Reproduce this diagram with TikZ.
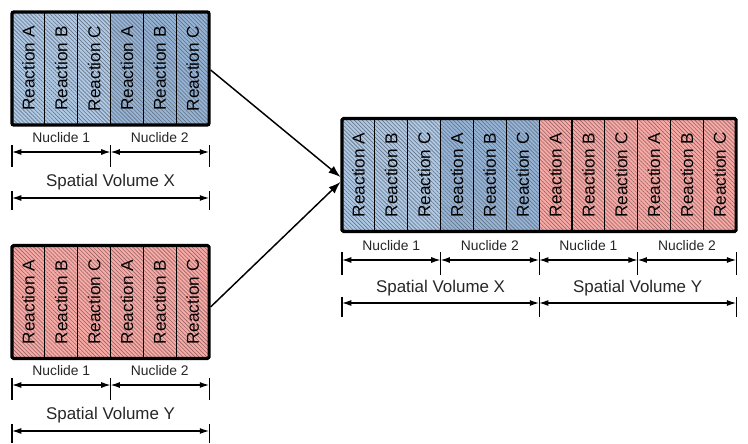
\documentclass[tikz,border=0pt]{standalone}
\usepackage{fontspec}
\setmainfont{Liberation Sans}
\usetikzlibrary{patterns.meta}
\usetikzlibrary{arrows.meta}
\usetikzlibrary{positioning}

\definecolor{volX}{RGB}{176,202,230}
\definecolor{volXdark}{RGB}{150,180,214}
\definecolor{volY}{RGB}{247,170,166}
\definecolor{hatchX}{RGB}{100,114,132}
\definecolor{hatchY}{RGB}{150,100,100}

\tikzset{
  rxn/.style={rectangle,draw=black,line width=0.9pt,minimum width=24.64pt,minimum height=84.75pt,inner sep=0pt},
  rxntext/.style={rotate=90,inner sep=0pt,font=\fontsize{12.9}{14}\selectfont,text=black},
  fillX/.style={preaction={fill=volX},pattern={Lines[angle=-45,distance=2.1pt,line width=0.45pt]},pattern color=hatchX},
  fillXdark/.style={preaction={fill=volXdark},pattern={Lines[angle=-45,distance=2.1pt,line width=0.45pt]},pattern color=hatchX},
  fillY/.style={preaction={fill=volY},pattern={Lines[angle=-45,distance=2.1pt,line width=0.45pt]},pattern color=hatchY},
  frame/.style={rectangle,draw=black,line width=2.3pt,rounded corners=1.2pt,minimum height=84.75pt,inner sep=0pt},
  dim/.style={{Latex[length=7pt,width=4.5pt]}-{Latex[length=7pt,width=4.5pt]},line width=0.9pt},
  tick/.style={line width=0.9pt},
  nuc/.style={font=\fontsize{10.4}{12}\selectfont,text=black!85},
  vol/.style={font=\fontsize{12.7}{14}\selectfont,text=black!85},
  flow/.style={-{Latex[length=9pt,width=6.5pt]},line width=1.1pt}
}

\begin{document}
\begin{tikzpicture}[x=0.75pt,y=-0.75pt]
\useasboundingbox (0,0) rectangle (748,443);

% spatial volume X (top left)
\foreach \n/\f in {1/fillX,2/fillXdark}
  \foreach \r [count=\k] in {A,B,C}{
    \node[rxn,\f] (X\n\r) at ({12+(3*(\n-1)+\k-0.5)*32.85},68.5) {};
    \node[rxntext] (X\n\r t) at (X\n\r) {Reaction \r};
  }
\node[frame,minimum width=147.8pt] (volX) at (110.55,68.5) {};

% spatial volume Y (bottom left)
\foreach \n in {1,2}
  \foreach \r [count=\k] in {A,B,C}{
    \node[rxn,fillY] (Y\n\r) at ({12+(3*(\n-1)+\k-0.5)*32.85},302) {};
    \node[rxntext] (Y\n\r t) at (Y\n\r) {Reaction \r};
  }
\node[frame,minimum width=147.8pt] (volY) at (110.55,302) {};

% dimension lines under the left blocks
\foreach \by/\v in {125/X,358/Y}{
  \foreach \t in {0,3,6} \draw[tick] ({12+\t*32.85},\by+20) -- ++(0,22);
  \draw[dim] (12,\by+27) -- ++(98.55,0);
  \draw[dim] (110.55,\by+27) -- ++(98.55,0);
  \node[nuc] (\v nuc1) at (61.3,\by+13) {Nuclide 1};
  \node[nuc] (\v nuc2) at (159.8,\by+13) {Nuclide 2};
  \foreach \t in {0,6} \draw[tick] ({12+\t*32.85},\by+66) -- ++(0,19);
  \draw[dim] (12,\by+73) -- ++(197.1,0);
  \node[vol] (\v vol) at (110.55,\by+57) {Spatial Volume \v};
}

% combined volumes X and Y (right)
\foreach \g/\f in {0/fillX,1/fillXdark,2/fillY,3/fillY}
  \foreach \r [count=\k] in {A,B,C}{
    \node[rxn,\f] (XY\g\r) at ({342+(3*\g+\k-0.5)*32.85},175) {};
    \node[rxntext] (XY\g\r t) at (XY\g\r) {Reaction \r};
  }
\node[frame,minimum width=295.65pt] (volXY) at (539.1,175) {};

\foreach \t in {0,3,6,9,12} \draw[tick] ({342+\t*32.85},252) -- ++(0,23);
\foreach \g/\n in {0/1,1/2,2/1,3/2}{
  \draw[dim] ({342+\g*98.55},260) -- ++(98.55,0);
  \node[nuc] (XYnuc\g) at ({342+(\g+0.5)*98.55},246) {Nuclide \n};
}
\foreach \t in {0,6,12} \draw[tick] ({342+\t*32.85},297) -- ++(0,20);
\foreach \g/\v in {0/X,1/Y}{
  \draw[dim] ({342+\g*197.1},303) -- ++(197.1,0);
  \node[vol] (XYvol\g) at ({342+(\g+0.5)*197.1},288) {Spatial Volume \v};
}

% merging arrows
\draw[flow] ([yshift=-1.1pt]volX.east) -- ([yshift=-1.5pt]volXY.west);
\draw[flow] ([yshift=-3.7pt]volY.east) -- ([yshift=-5.2pt]volXY.west);

\end{tikzpicture}
\end{document}
